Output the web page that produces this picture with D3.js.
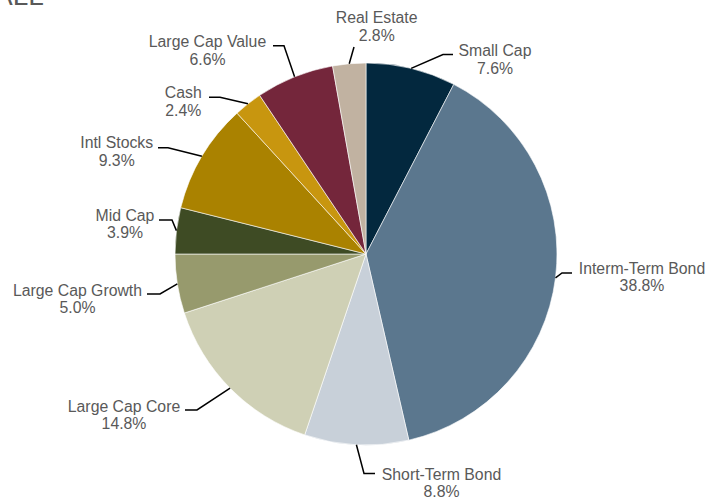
<!DOCTYPE html>
<html>
<head>
<meta charset="utf-8">
<script src="https://cdn.jsdelivr.net/npm/d3@7"></script>
<style>
  html, body { margin: 0; padding: 0; background: #fff; }
  svg { display: block; }
</style>
</head>
<body>
<svg id="chart" width="709" height="500"></svg>
<script>
// ---- data ----
const categories = ["Small Cap", "Interm-Term Bond", "Short-Term Bond", "Large Cap Core",
  "Large Cap Growth", "Mid Cap", "Intl Stocks", "Cash", "Large Cap Value", "Real Estate"];
const values = [7.6, 38.8, 8.8, 14.8, 5.0, 3.9, 9.3, 2.4, 6.6, 2.8];
const colors = ["#03283e", "#5b778e", "#c8d0d9", "#cfd0b5", "#979a6d",
  "#3e4b24", "#aa8200", "#c8960f", "#74263b", "#c1b2a1"];
const titleText = "ALL";

// ---- label layout (text centre x, first baseline y, elbow x,y, line end x) ----
const labelLayout = [
  { tx: 495,   ty: 56,    ex: 443, ey: 54.5, endX: 453 },
  { tx: 642,   ty: 273.5, ex: 562, ey: 273,  endX: 572 },
  { tx: 441.5, ty: 479.5, ex: 364, ey: 473.5,endX: 375 },
  { tx: 124,   ty: 411.5, ex: 197, ey: 410,  endX: 185 },
  { tx: 77.5,  ty: 295.5, ex: 160, ey: 294,  endX: 147 },
  { tx: 125,   ty: 220.5, ex: 172, ey: 220,  endX: 159 },
  { tx: 116.7, ty: 148.3, ex: 168, ey: 147.7,endX: 158 },
  { tx: 183.3, ty: 98.3,  ex: 220, ey: 97.3, endX: 209 },
  { tx: 207.5, ty: 46.7,  ex: 284, ey: 45.7, endX: 273 },
  { tx: 376.7, ty: 23.3,  ex: 354, ey: 47,   endX: 354 }
];

const svg = d3.select("#chart");
const cx = 366, cy = 254, R = 191;

// title (clipped at top of frame)
svg.append("text")
  .attr("x", -6).attr("y", 5)
  .attr("font-family", "Liberation Sans, Arial, sans-serif")
  .attr("font-size", 28)
  .attr("fill", "#595959")
  .text(titleText);

const pie = d3.pie().sort(null).value(d => d)(values);
const arc = d3.arc().innerRadius(0).outerRadius(R);
const g = svg.append("g").attr("transform", `translate(${cx},${cy})`);

g.selectAll("path.slice").data(pie).join("path")
  .attr("class", "slice")
  .attr("d", arc)
  .attr("fill", (d, i) => colors[i])
  .attr("stroke", "#ffffff")
  .attr("stroke-width", 0.6);

const fmt = d3.format(".1f");

// leader lines
pie.forEach((d, i) => {
  const a = (d.startAngle + d.endAngle) / 2;
  const sx = cx + R * Math.sin(a), sy = cy - R * Math.cos(a);
  const L = labelLayout[i];
  const pts = [[sx, sy], [L.ex, L.ey], [L.endX, L.ey]];
  svg.append("path")
    .attr("d", d3.line()(pts))
    .attr("fill", "none")
    .attr("stroke", "#000")
    .attr("stroke-width", 1.5);
});

// labels
const lab = svg.selectAll("text.lab").data(pie).join("text")
  .attr("class", "lab")
  .attr("font-family", "Liberation Sans, Arial, sans-serif")
  .attr("font-size", 15.8)
  .attr("fill", "#595959")
  .attr("text-anchor", "middle");
lab.append("tspan")
  .attr("x", (d, i) => labelLayout[i].tx)
  .attr("y", (d, i) => labelLayout[i].ty)
  .text((d, i) => categories[i]);
lab.append("tspan")
  .attr("x", (d, i) => labelLayout[i].tx)
  .attr("y", (d, i) => labelLayout[i].ty + 17.8)
  .text(d => fmt(d.data) + "%");
</script>
</body>
</html>
